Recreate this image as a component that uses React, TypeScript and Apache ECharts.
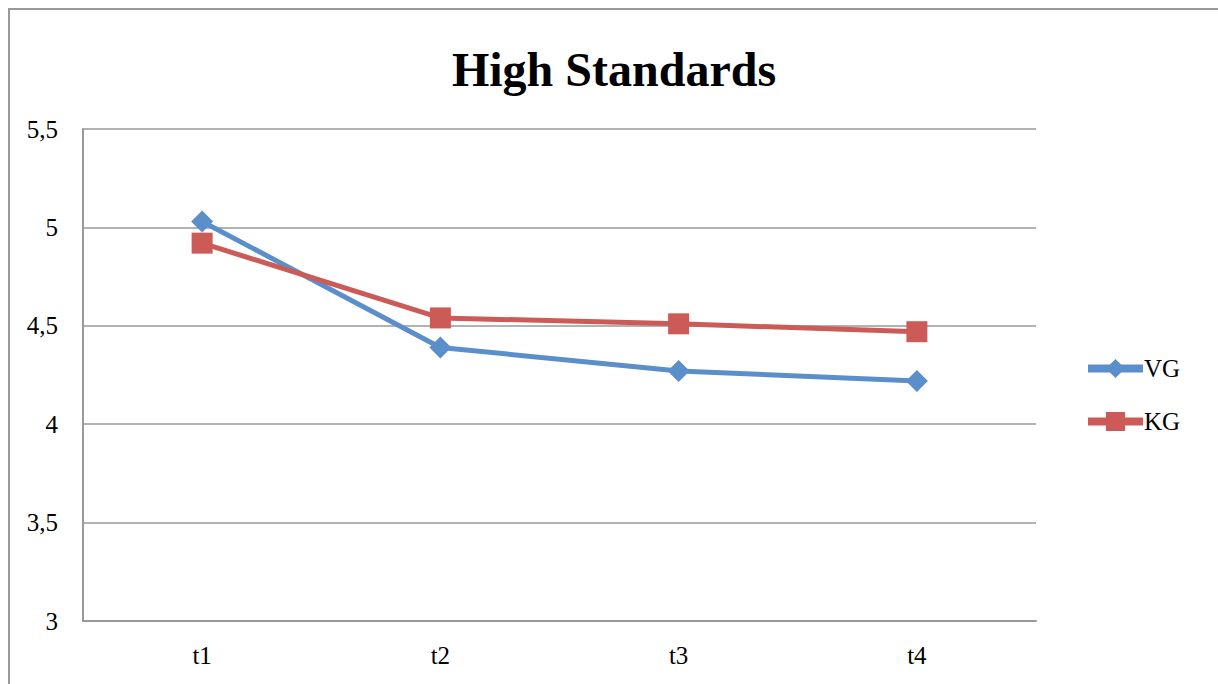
import React, { useEffect, useRef } from "react";
import * as echarts from "echarts";

const categories = ["t1", "t2", "t3", "t4"];
const vgValues = [5.03, 4.39, 4.27, 4.22];
const kgValues = [4.92, 4.54, 4.51, 4.47];
const seriesNames = ["VG", "KG"];
const chartTitle = "High Standards";

export default function App() {
  const ref = useRef<HTMLDivElement>(null);
  useEffect(() => {
    if (!ref.current) return;
    const chart = echarts.init(ref.current, null, { renderer: "svg" });
    const font = "'Liberation Serif', 'Times New Roman', serif";
    chart.setOption({
      animation: false,
      backgroundColor: "#ffffff",
      title: {
        text: chartTitle,
        left: 609,
        textAlign: "center",
        top: 40,
        textStyle: { fontFamily: font, fontSize: 48, fontWeight: "bold", color: "#000" },
      },
      graphic: [
        { type: "line", shape: { x1: 8, y1: 9, x2: 1218, y2: 9 }, style: { stroke: "#999", lineWidth: 2 } },
        { type: "line", shape: { x1: 9, y1: 8, x2: 9, y2: 684 }, style: { stroke: "#999", lineWidth: 2 } },
      ],
      legend: {
        orient: "vertical",
        left: 1079,
        top: 351,
        itemWidth: 55,
        itemHeight: 24,
        itemGap: 28,
        lineStyle: { width: 8 },
        textStyle: { fontFamily: font, fontSize: 25, color: "#000", padding: [0, 0, 0, -4] },
        data: seriesNames,
      },
      grid: { left: 83, top: 129, width: 953, height: 492, containLabel: false },
      xAxis: {
        type: "category",
        data: categories,
        boundaryGap: true,
        axisLine: { lineStyle: { color: "#999", width: 2 } },
        axisTick: { show: false },
        axisLabel: { fontFamily: font, fontSize: 25, color: "#000", margin: 22 },
      },
      yAxis: {
        type: "value",
        min: 3,
        max: 5.5,
        interval: 0.5,
        axisLine: { show: true, lineStyle: { color: "#999", width: 2 } },
        axisTick: { show: false },
        splitLine: { lineStyle: { color: "#999", width: 1.5 } },
        axisLabel: {
          fontFamily: font,
          fontSize: 25,
          color: "#000",
          margin: 25,
          formatter: (v: number) => String(v).replace(".", ","),
        },
      },
      series: [
        {
          name: seriesNames[0],
          type: "line",
          data: vgValues,
          symbol: "diamond",
          symbolSize: 22,
          lineStyle: { width: 5, color: "#5B8FCB" },
          itemStyle: { color: "#5B8FCB" },
        },
        {
          name: seriesNames[1],
          type: "line",
          data: kgValues,
          symbol: "rect",
          symbolSize: 21,
          lineStyle: { width: 5, color: "#CC5B57" },
          itemStyle: { color: "#CC5B57" },
        },
      ],
    });
    return () => chart.dispose();
  }, []);
  return (
    <div
      ref={ref}
      style={{ position: "fixed", left: 0, top: 0, width: 1218, height: 684, overflow: "hidden" }}
    />
  );
}
